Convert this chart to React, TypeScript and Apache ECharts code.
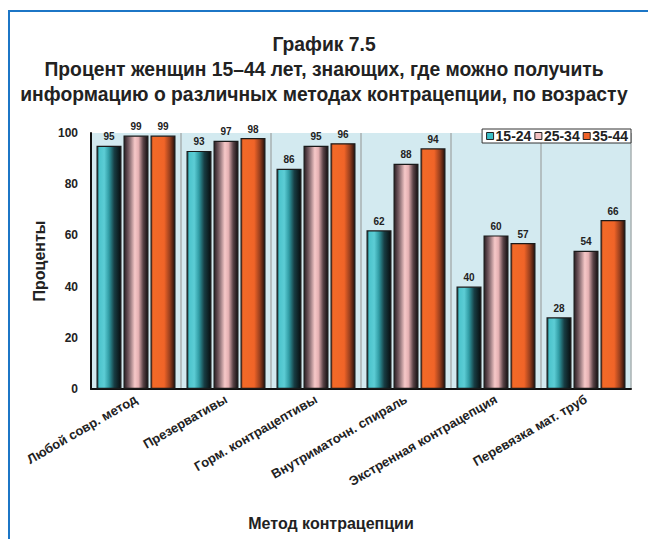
import React, { useEffect, useRef } from "react";
import * as echarts from "echarts";

const categories = [
  "Любой совр. метод",
  "Презервативы",
  "Горм. контрацептивы",
  "Внутриматочн. спираль",
  "Экстренная контрацепция",
  "Перевязка мат. труб",
];
const seriesNames = ["15-24", "25-34", "35-44"];
const age1524 = [95, 93, 86, 62, 40, 28];
const age2534 = [99, 97, 95, 88, 60, 54];
const age3544 = [99, 98, 96, 94, 57, 66];
const yTicks = [0, 20, 40, 60, 80, 100];

const FONT = "'Liberation Sans', Arial, sans-serif";
const TXT = "#222";

const grad = (stops: [number, string][]) =>
  new echarts.graphic.LinearGradient(
    0, 0, 1, 0,
    stops.map(([offset, color]) => ({ offset, color }))
  );

const fills = [
  grad([
    [0, "#12484e"],
    [0.1, "#4cc4cc"],
    [0.3, "#5ccdd5"],
    [0.5, "#2f9aa2"],
    [0.72, "#173e44"],
    [1, "#080c0e"],
  ]),
  grad([
    [0, "#2a1d22"],
    [0.2, "#7a6066"],
    [0.45, "#f6c8c8"],
    [0.6, "#e6b2b4"],
    [0.8, "#5a4448"],
    [1, "#140e10"],
  ]),
  grad([
    [0, "#a8401a"],
    [0.1, "#f26a28"],
    [0.55, "#f06428"],
    [0.78, "#9a401e"],
    [1, "#22100c"],
  ]),
];
const legendColors = ["#3cbfc8", "#f2c2c2", "#ee6228"];
const dataSets = [age1524, age2534, age3544];

export default function App() {
  const ref = useRef<HTMLDivElement>(null);
  useEffect(() => {
    if (!ref.current) return;
    const chart = echarts.init(ref.current, undefined, { renderer: "svg" });
    chart.setOption({
      animation: false,
      backgroundColor: "#fff",
      textStyle: { fontFamily: FONT },
      title: {
        text:
          "График 7.5\nПроцент женщин 15–44 лет, знающих, где можно получить\nинформацию о различных методах контрацепции, по возрасту",
        left: "center",
        top: 27,
        textStyle: {
          fontFamily: FONT,
          fontWeight: "bold",
          fontSize: 19.3,
          lineHeight: 25,
          color: TXT,
        },
      },
      legend: {
        data: seriesNames.map((n, i) => ({
          name: n,
          icon: "rect",
          itemStyle: { color: legendColors[i], borderColor: "#222", borderWidth: 1 },
        })),
        right: 17,
        top: 129,
        itemWidth: 7,
        itemHeight: 7,
        itemGap: 3,
        padding: [0, 3, 0, 4],
        backgroundColor: "#fff",
        borderColor: "#333",
        borderWidth: 1,
        borderRadius: 0,
        textStyle: {
          fontFamily: FONT,
          fontWeight: "bold",
          fontSize: 14,
          color: TXT,
          padding: [0, 0, 0, -3],
        },
      },
      grid: {
        left: 91,
        right: 17,
        top: 133,
        bottom: 150,
        show: true,
        backgroundColor: "#d3eaf0",
        borderWidth: 0,
      },
      xAxis: {
        type: "category",
        data: categories,
        axisLine: { lineStyle: { color: "#111", width: 2 } },
        axisTick: { show: false },
        splitLine: { show: true, lineStyle: { color: "#a8b0b2", width: 1.5 } },
        axisLabel: {
          interval: 0,
          rotate: 30,
          margin: 9,
          fontFamily: FONT,
          fontWeight: "bold",
          fontSize: 13,
          color: TXT,
        },
      },
      yAxis: {
        type: "value",
        min: 0,
        max: 100,
        interval: 20,
        name: "Проценты",
        nameLocation: "middle",
        nameGap: 43,
        nameTextStyle: { fontFamily: FONT, fontWeight: "bold", fontSize: 16, color: TXT },
        axisLine: { show: true, lineStyle: { color: "#111", width: 2 } },
        axisTick: { show: false },
        splitLine: { show: false },
        axisLabel: {
          margin: 13,
          fontFamily: FONT,
          fontWeight: "bold",
          fontSize: 12,
          color: TXT,
          formatter: (v: number) => (yTicks.includes(v) ? String(v) : ""),
        },
      },
      series: seriesNames.map((n, i) => ({
        name: n,
        type: "bar",
        data: dataSets[i],
        barWidth: 25,
        barGap: "8%",
        itemStyle: { color: fills[i], borderColor: "#1a1a1a", borderWidth: 1.2 },
        label: {
          show: true,
          position: "top",
          distance: 4,
          fontFamily: FONT,
          fontWeight: "bold",
          fontSize: 10,
          color: TXT,
        },
      })),
      graphic: [
        {
          type: "line",
          shape: { x1: 8, y1: 11, x2: 648, y2: 11 },
          style: { stroke: "#1c76c6", lineWidth: 2 },
          silent: true,
        },
        {
          type: "line",
          shape: { x1: 9, y1: 10, x2: 9, y2: 539 },
          style: { stroke: "#1c76c6", lineWidth: 2 },
          silent: true,
        },
        {
          type: "text",
          x: 331,
          y: 523,
          style: {
            text: "Метод контрацепции",
            align: "center",
            verticalAlign: "middle",
            fontFamily: FONT,
            fontWeight: "bold",
            fontSize: 16,
            fill: TXT,
          },
        },
      ],
    });
    return () => chart.dispose();
  }, []);
  return (
    <div
      ref={ref}
      style={{ position: "fixed", left: 0, top: 0, width: 648, height: 539 }}
    />
  );
}
